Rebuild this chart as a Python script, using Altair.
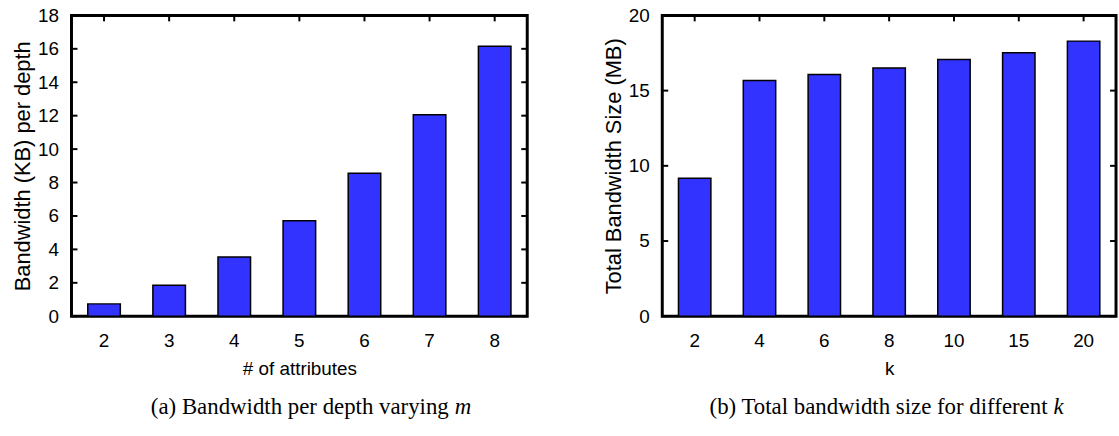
import altair as alt
import pandas as pd

# ---- data ----
attrs = ["2", "3", "4", "5", "6", "7", "8"]
bw_per_depth = [0.74, 1.86, 3.54, 5.72, 8.56, 12.05, 16.16]
left_yticks = [0, 2, 4, 6, 8, 10, 12, 14, 16, 18]

k_values = ["2", "4", "6", "8", "10", "15", "20"]
total_bw = [9.18, 15.67, 16.07, 16.51, 17.07, 17.51, 18.29]
right_yticks = [0, 5, 10, 15, 20]

captions_main = ["(a) Bandwidth per depth varying",
                 "(b) Total bandwidth size for different"]
captions_var = ["m", "k"]

BLUE = "#3333ff"
SANS = "Liberation Sans"
SERIF = "Liberation Serif"
H = 303


def panel(cats, vals, yticks, ymax, xtitle, ytitle, cap_main, cap_var,
          width, cap_end):
    df = pd.DataFrame({"cat": cats, "val": vals})
    tdf = pd.DataFrame({"val": yticks})
    yscale = alt.Scale(domain=[0, ymax], nice=False, zero=True)
    xscale = alt.Scale(paddingInner=0.5, paddingOuter=0.25)
    xaxis = alt.Axis(labelAngle=0, ticks=False, domain=False, grid=False,
                     labelFont=SANS, labelFontSize=19,
                     labelColor="black", labelPadding=15,
                     titleFont=SANS, titleFontSize=19,
                     titleFontWeight="normal", titleColor="black",
                     titlePadding=10)
    yaxis = alt.Axis(values=yticks, ticks=False, domain=False,
                     grid=False, labelFont=SANS, labelFontSize=19,
                     labelColor="black", labelPadding=13,
                     titleFont=SANS, titleFontSize=22,
                     titleFontWeight="normal", titleColor="black",
                     titlePadding=3)
    X = alt.X("cat:N", sort=cats, title=xtitle, scale=xscale, axis=xaxis)
    Y = alt.Y("val:Q", scale=yscale, title=ytitle, axis=yaxis)

    bars = alt.Chart(df).mark_bar(
        color=BLUE, stroke="black", strokeWidth=1.5
    ).encode(x=X, y=Y)
    lticks = alt.Chart(tdf).mark_rule(color="black", strokeWidth=2).encode(
        y=Y, x=alt.value(0), x2=alt.value(6),
    )
    rticks = alt.Chart(tdf).mark_rule(color="black", strokeWidth=2).encode(
        y=Y, x=alt.value(width - 6), x2=alt.value(width),
    )
    tticks = alt.Chart(df).mark_rule(color="black", strokeWidth=2).encode(
        x=X, y=alt.value(0), y2=alt.value(6),
    )
    cap1 = alt.Chart(pd.DataFrame({"t": [cap_main]})).mark_text(
        font=SERIF, fontSize=23, align="right", baseline="middle",
        color="black",
    ).encode(text="t:N", x=alt.value(cap_end), y=alt.value(H + 91))
    cap2 = alt.Chart(pd.DataFrame({"t": [cap_var]})).mark_text(
        font=SERIF, fontSize=23, fontStyle="italic", align="left",
        baseline="middle", color="black",
    ).encode(text="t:N", x=alt.value(cap_end + 6), y=alt.value(H + 91))
    return alt.layer(bars, lticks, rticks, tticks, cap1, cap2).properties(
        width=width, height=H,
    )


left = panel(attrs, bw_per_depth, left_yticks, 18, "# of attributes",
             "Bandwidth (KB) per depth", captions_main[0], captions_var[0],
             459, 380)
right = panel(k_values, total_bw, right_yticks, 20, "k",
              "Total Bandwidth Size (MB)", captions_main[1], captions_var[1],
              457, 388)

chart = alt.hconcat(left, right, spacing=71).properties(
    padding={"left": 10, "top": 3, "right": 0, "bottom": 0}
).configure_view(stroke="black", strokeWidth=3)

chart.save("out.html", embed_options={"renderer": "svg", "actions": False})
